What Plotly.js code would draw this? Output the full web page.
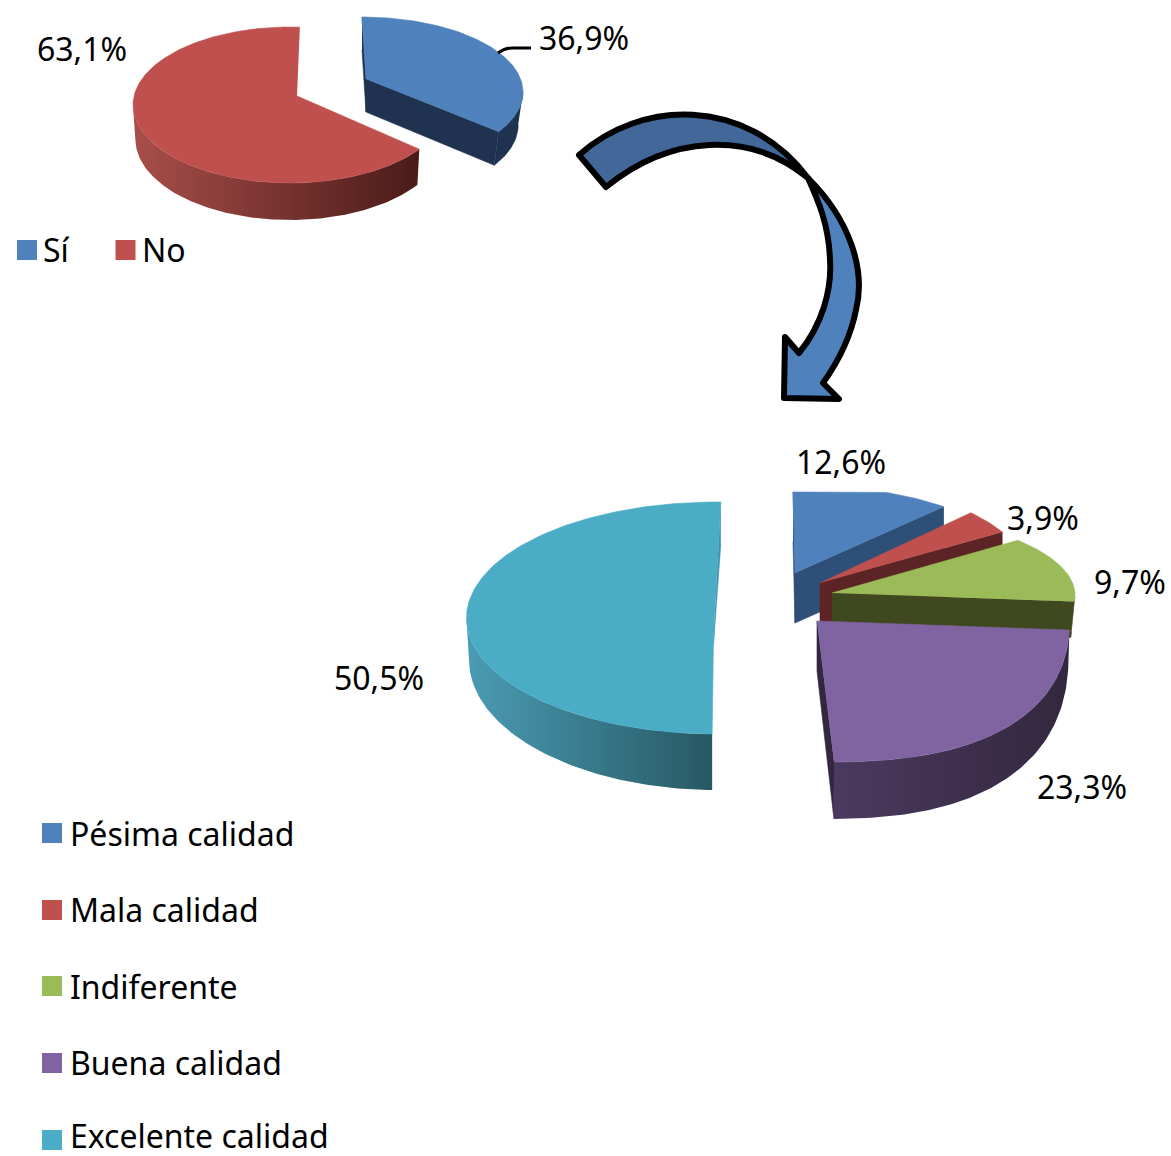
<!DOCTYPE html>
<html><head><meta charset="utf-8">
<script src="https://cdn.plot.ly/plotly-3.0.1.min.js"></script>
<style>html,body{margin:0;padding:0;background:#fff}
.shapelayer path{stroke-linejoin:round}</style></head>
<body><div id="chart" style="width:1171px;height:1156px"></div>
<script>
const topCategories = ['Sí', 'No'];
const topValues = [36.9, 63.1];
const bottomCategories = ['Pésima calidad', 'Mala calidad', 'Indiferente', 'Buena calidad', 'Excelente calidad'];
const bottomValues = [12.6, 3.9, 9.7, 23.3, 50.5];

const blue='#4f81bd', red='#c0504d', green='#9bbb59', purple='#8064a2', teal='#4bacc6';

// Presentation of the perspective pies (placement, not data)
const topStyle = [
 {color:blue, wall:'#1f3350', rim:['#1f3350','#1f3350'], ax:366, ay:79, cx:362, cy:92, rx:161, ry:75, dS:33, dF:34, da:33, rb:.97, off0:0, off1:-10.8, walls:['start','end']},
 {color:red, wall:'#4d1c1a', rim:['#a84e4a','#4a1b18'], ax:297, ay:96, cx:290, cy:105, rx:157, ry:78, dS:34, dF:37, da:37, rb:.985, off0:-8.3, off1:3.6, walls:[]}
];
const bottomStyle = [
 {color:blue, wall:'#2e4f78', rim:['#2e4f78','#2e4f78'], ax:795, ay:573, cx:793, cy:558, rx:212, ry:73, clip:492, dS:50, dF:50, da:50, rb:1, off0:0, off1:0, walls:['start','end']},
 {color:red, wall:'#5c2424', rim:['#5c2424','#5c2424'], ax:820, ay:583, cx:820, cy:583, rx:212, ry:100, dS:50, dF:50, da:50, rb:1, off0:0, off1:0, walls:['end']},
 {color:green, wall:'#40481f', rim:['#40481f','#40481f'], ax:832, ay:593, cx:832, cy:595, rx:243, ry:85, dS:36, dF:36, da:50, rb:.985, off0:-9.5, off1:0, walls:['end']},
 {color:purple, wall:'#33273f', rim:['#4b3a5f','#33273f'], ax:817, ay:621, cx:822, cy:611, rx:248, ry:151, p:.8, dS:38, dF:57, da:50, rb:.995, off0:0, off1:.5, walls:['end']},
 {color:teal, wall:'#3b93ab', rim:['#4a9cb4','#275863'], ax:713.5, ay:640, cx:716.5, cy:618, rx:250, ry:116, dS:42, dF:56, da:4, rb:.99, off0:2.8, off1:1, walls:['end']}
];

const rad = d => d*Math.PI/180;
const spow = (v,p) => Math.sign(v)*Math.pow(Math.abs(v),p);
function rimPoint(s,deg,bottom){
  const p=s.p||1, sn=spow(Math.sin(rad(deg)),p), cs=spow(Math.cos(rad(deg)),p);
  let y=s.cy-s.ry*cs;
  if(s.clip!==undefined) y=Math.max(y,s.clip);
  const x=s.cx+s.rx*sn*(bottom?s.rb:1);
  if(bottom) y+=s.dS+(s.dF-s.dS)*Math.abs(Math.min(0,Math.cos(rad(deg))));
  return [x,y];
}
function poly(pts,color,grad){
  const t={type:'scatter',mode:'lines',x:pts.map(p=>p[0]),y:pts.map(p=>p[1]),fill:'toself',
    line:{width:.6,color:color},fillcolor:color,hoverinfo:'skip',showlegend:false};
  if(grad&&grad[0]!==grad[1]){t.fillgradient={type:'horizontal',colorscale:[[0,grad[0]],[1,grad[1]]]};delete t.fillcolor;t.line={width:0,color:color};}
  return t;
}
function pieTraces(values,styles){
  const out=[]; let acc=0; const total=values.reduce((a,b)=>a+b,0);
  values.forEach((v,i)=>{
    const s=styles[i], a0=acc/total*360+s.off0, a1=(acc+v)/total*360+s.off1; acc+=v;
    const angles=[]; for(let a=a0;a<a1;a+=1)angles.push(a); angles.push(a1);
    const apex=[s.ax,s.ay], apexB=[s.ax,s.ay+s.da];
    s.walls.forEach(w=>{
      const d=w==='start'?a0:a1;
      out.push(poly([rimPoint(s,d),apex,apexB,rimPoint(s,d,true)],s.wall));
    });
    const front=angles.filter(a=>a>=90&&a<=270);
    if(front.length>1){
      out.push(poly(front.map(a=>rimPoint(s,a)).concat(front.slice().reverse().map(a=>rimPoint(s,a,true))),s.wall,s.rim));
    }
    out.push(poly([apex].concat(angles.map(a=>rimPoint(s,a))),s.color));
  });
  return out;
}
const pct = v => v.toFixed(1).replace('.',',')+'%';

const traces=[...pieTraces(topValues,topStyle),...pieTraces(bottomValues,bottomStyle)];

const fontFam='"Noto Sans", sans-serif', fs=32;
const keyTop={x:[27,125.5],y:[250,250]};
const keyBottom={x:[52,52,52,52,52],y:[833,910,986,1063,1140]};
traces.push({type:'scatter',mode:'markers',x:keyTop.x,y:keyTop.y,hoverinfo:'skip',showlegend:false,
  marker:{symbol:'square',size:20,color:[blue,red],line:{width:0}}});
traces.push({type:'scatter',mode:'markers',x:keyBottom.x,y:keyBottom.y,hoverinfo:'skip',showlegend:false,
  marker:{symbol:'square',size:20,color:[blue,red,green,purple,teal],line:{width:0}}});

const ann=(x,y,text,anchor)=>({x,y,text,xref:'x',yref:'y',showarrow:false,xanchor:anchor||'center',yanchor:'middle',
  font:{family:fontFam,size:fs,color:'#000'}});
const keyTextY=[833,909,986,1062,1135];
const annotations=[
  ann(82,48,pct(topValues[1])), ann(584,37,pct(topValues[0])),
  ann(841,461,pct(bottomValues[0])), ann(1043,517,pct(bottomValues[1])),
  ann(1130,581,pct(bottomValues[2])), ann(1082,786,pct(bottomValues[3])),
  ann(379,677,pct(bottomValues[4])),
  ann(41,249,topCategories[0],'left'), ann(140,249,topCategories[1],'left'),
  ...bottomCategories.map((c,i)=>ann(68,keyTextY[i],c,'left'))
];

const arrowLine={color:'#000',width:6};
const shapes=[
 {type:'path',xref:'x',yref:'y',line:{color:'#000',width:3},
  path:'M 498 53 Q 505 48 512 48 L 531 48'},
 {type:'path',xref:'x',yref:'y',fillcolor:'#42689a',line:arrowLine,
  path:'M 579 155 C 640 100 745 95 808 178 C 750 130 670 135 606 187 Z'},
 {type:'path',xref:'x',yref:'y',fillcolor:'#4f81bd',line:arrowLine,
  path:'M 808 178 C 850 220 866 270 856 310 C 850 340 838 362 823 383 L 839 399 L 784 398 L 785 337 L 799 353 C 822 325 832 290 830 260 C 829 225 818 200 808 178 Z'}
];

Plotly.newPlot('chart',traces,{
  width:1171,height:1156,autosize:false,margin:{l:0,r:0,t:0,b:0},
  paper_bgcolor:'#fff',plot_bgcolor:'#fff',showlegend:false,
  xaxis:{range:[0,1171],visible:false,fixedrange:true},
  yaxis:{range:[1156,0],visible:false,fixedrange:true},
  annotations,shapes
},{displayModeBar:false,staticPlot:true});
</script></body></html>
